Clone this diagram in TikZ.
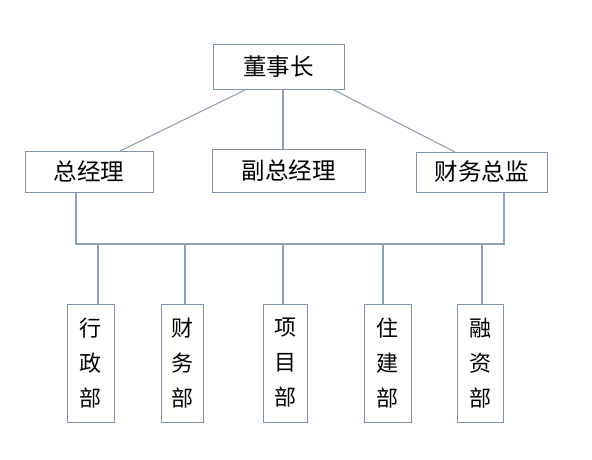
\documentclass[tikz,border=0pt]{standalone}
\usepackage{fontspec}
\newfontfamily\cjk{Noto Sans CJK SC}
\definecolor{ln}{HTML}{8EA2BC}
\definecolor{bx}{HTML}{7F93AD}
\begin{document}
\begin{tikzpicture}[x=1pt,y=-1pt,
  box/.style={draw=bx,line width=1pt,fill=white,inner sep=0pt,font=\cjk\fontsize{23.5}{28}\selectfont},
  vbox/.style={box,minimum width=44pt,minimum height=118pt,align=center,font=\cjk\fontsize{22}{35}\selectfont},
  conn/.style={draw=ln,line width=1.1pt}]
\useasboundingbox (0,0) rectangle (592,459);
\node[box,minimum width=131pt,minimum height=45pt] (top) at (278.5,66.5) {董事长};
\node[box,minimum width=128pt,minimum height=41pt] (gm) at (89,171.5) {总经理};
\node[box,minimum width=153pt,minimum height=43pt] (vgm) at (288.5,170.5) {副总经理};
\node[box,minimum width=131pt,minimum height=40pt] (cfo) at (481.5,172) {财务总监};
\node[vbox,minimum width=47pt] (b1) at (90.5,363) {行\\政\\部};
\node[vbox,minimum width=42pt] (b2) at (182,363) {财\\务\\部};
\node[vbox,minimum width=44pt] (b3) at (285,363) {项\\目\\部};
\node[vbox,minimum width=47pt] (b4) at (387.5,363) {住\\建\\部};
\node[vbox,minimum width=46pt] (b5) at (480,363) {融\\资\\部};
\coordinate (tl) at (247,89);
\coordinate (tm) at (283,89);
\coordinate (tr) at (332,89);
\coordinate (gl) at (120,151);
\coordinate (cr) at (455,152);
\coordinate (hl) at (76,244);
\coordinate (hr) at (504,244);
\coordinate (d1) at (98,244);
\coordinate (d2) at (185,244);
\coordinate (d3) at (283,244);
\coordinate (d4) at (383,244);
\coordinate (d5) at (482,244);
\draw[conn] (tl) -- (gl);
\draw[conn] (tm) -- (tm |- vgm.north);
\draw[conn] (tr) -- (cr);
\draw[conn] (hl |- gm.south) -- (hl) -- (hr) -- (hr |- cfo.south);
\foreach \i in {1,...,5}{\draw[conn] (d\i) -- (d\i |- b\i.north);}
\end{tikzpicture}
\end{document}
